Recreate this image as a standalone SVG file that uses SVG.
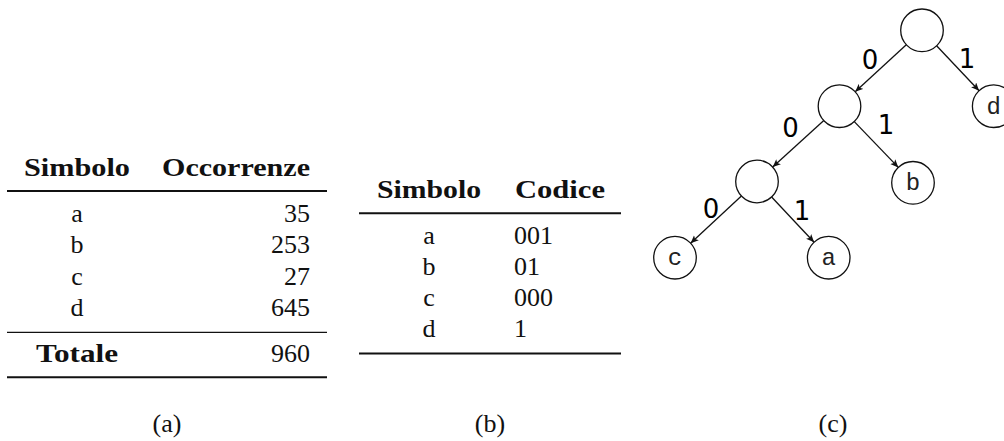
<svg xmlns="http://www.w3.org/2000/svg" width="1004" height="441" viewBox="0 0 1004 441">
<style>
.t{font-family:"Liberation Serif","Times New Roman",serif;font-size:26px;fill:#111}
.b{font-weight:bold}
.m{text-anchor:middle}
.e{text-anchor:end}
.rule{stroke:#111;stroke-width:2.1}
.mrule{stroke:#111;stroke-width:1.3}
.node{fill:#fff;stroke:#111;stroke-width:1.3}
.lab{font-family:"DejaVu Sans","Noto Sans",sans-serif;font-size:26px;fill:#000;text-anchor:middle}
.nl{font-family:"Liberation Mono","DejaVu Sans Mono",monospace;font-size:24px;fill:#222;text-anchor:middle}
.edge{stroke:#111;stroke-width:1.3;fill:none;marker-end:url(#arr)}
</style>
<defs>
<marker id="arr" markerUnits="userSpaceOnUse" markerWidth="9" markerHeight="8" refX="8" refY="3.5" orient="auto">
<path d="M0,0 L8,3.5 L0,7 L2,3.5 z" fill="#111"/>
</marker>
</defs>
<rect width="1004" height="441" fill="#fff"/>

<g id="table-a">
<text class="t b m" x="77" y="176" textLength="106" lengthAdjust="spacingAndGlyphs">Simbolo</text>
<text class="t b" x="162" y="176" textLength="148" lengthAdjust="spacingAndGlyphs">Occorrenze</text>
<line class="rule" x1="7" y1="191" x2="327" y2="191"/>
<text class="t m" x="77" y="222.3">a</text>
<text class="t e" x="310" y="222.3">35</text>
<text class="t m" x="77" y="253.3">b</text>
<text class="t e" x="310" y="253.3">253</text>
<text class="t m" x="77" y="284.5">c</text>
<text class="t e" x="310" y="284.5">27</text>
<text class="t m" x="77" y="315.7">d</text>
<text class="t e" x="310" y="315.7">645</text>
<line class="mrule" x1="7" y1="332.3" x2="327" y2="332.3"/>
<text class="t b m" x="77" y="362.3" textLength="82" lengthAdjust="spacingAndGlyphs">Totale</text>
<text class="t e" x="310" y="362.3">960</text>
<line class="rule" x1="7" y1="377.3" x2="327" y2="377.3"/>
<text class="t m" x="167" y="432">(a)</text>
</g>

<g id="table-b">
<text class="t b m" x="429" y="197.5" textLength="104" lengthAdjust="spacingAndGlyphs">Simbolo</text>
<text class="t b" x="515" y="197.5" textLength="90" lengthAdjust="spacingAndGlyphs">Codice</text>
<line class="rule" x1="359" y1="213.3" x2="621" y2="213.3"/>
<text class="t m" x="429" y="244">a</text>
<text class="t" x="514" y="244">001</text>
<text class="t m" x="429" y="275">b</text>
<text class="t" x="514" y="275">01</text>
<text class="t m" x="429" y="306">c</text>
<text class="t" x="514" y="306">000</text>
<text class="t m" x="429" y="337">d</text>
<text class="t" x="514" y="337">1</text>
<line class="rule" x1="359" y1="353.5" x2="621" y2="353.5"/>
<text class="t m" x="490" y="432">(b)</text>
</g>

<g id="connectors">
<line class="edge" x1="906.3" y1="44.7" x2="855.2" y2="91.8"/>
<line class="edge" x1="936.6" y1="45.8" x2="979.1" y2="90.7"/>
<line class="edge" x1="823.8" y1="120.6" x2="772.7" y2="167.1"/>
<line class="edge" x1="854.3" y1="121.6" x2="898.3" y2="167.4"/>
<line class="edge" x1="741.4" y1="196.0" x2="690.6" y2="243.2"/>
<line class="edge" x1="771.6" y1="197.0" x2="814.1" y2="242.2"/>
<text class="lab" x="870" y="68.5">0</text>
<text class="lab" x="967" y="68">1</text>
<text class="lab" x="790.5" y="136.7">0</text>
<text class="lab" x="886" y="134">1</text>
<text class="lab" x="711" y="218.3">0</text>
<text class="lab" x="802" y="220.3">1</text>
</g>

<g id="node-root"><circle class="node" cx="922" cy="30.3" r="21.3"/></g>
<g id="node-n1"><circle class="node" cx="839.5" cy="106.2" r="21.3"/></g>
<g id="node-n2"><circle class="node" cx="757" cy="181.5" r="21.3"/></g>
<g id="node-d"><circle class="node" cx="993.7" cy="106.2" r="21.3"/><text class="nl" x="993.7" y="113.5">d</text></g>
<g id="node-b"><circle class="node" cx="913" cy="182.8" r="21.3"/><text class="nl" x="913" y="190">b</text></g>
<g id="node-c"><circle class="node" cx="675" cy="257.7" r="21.3"/><text class="nl" x="675" y="265">c</text></g>
<g id="node-a"><circle class="node" cx="828.7" cy="257.7" r="21.3"/><text class="nl" x="828.7" y="265">a</text></g>
<text class="t m" x="833" y="432">(c)</text>
</svg>
